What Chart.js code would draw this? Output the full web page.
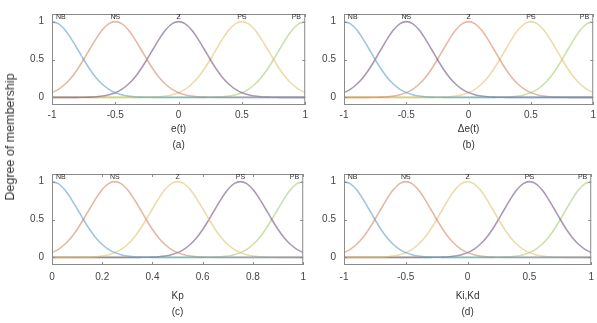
<!DOCTYPE html>
<html>
<head>
<meta charset="utf-8">
<script src="https://cdn.jsdelivr.net/npm/chart.js"></script>
<style>
  body { margin: 0; background: #fff; width: 597px; height: 323px; position: relative; overflow: hidden; }
  canvas { position: absolute; }
  #ylabel {
    position: absolute; left: 10px; top: 137px;
    transform: translate(-50%, -50%) rotate(-90deg);
    font: 12.5px "Liberation Sans", Arial, sans-serif; color: #333; white-space: nowrap;
  }
</style>
</head>
<body>
<canvas id="pa" width="312" height="160" style="left:0;top:0"></canvas>
<canvas id="pb" width="300" height="160" style="left:300px;top:0"></canvas>
<canvas id="pc" width="312" height="160" style="left:0;top:160px"></canvas>
<canvas id="pd" width="300" height="160" style="left:300px;top:160px"></canvas>
<div id="ylabel">Degree of membership</div>
<script>
// sample points along the universe of discourse
const xSym = [-1, -0.95, -0.9, -0.85, -0.8, -0.75, -0.7, -0.65, -0.6, -0.55, -0.5,
  -0.45, -0.4, -0.35, -0.3, -0.25, -0.2, -0.15, -0.1, -0.05, 0,
  0.05, 0.1, 0.15, 0.2, 0.25, 0.3, 0.35, 0.4, 0.45, 0.5,
  0.55, 0.6, 0.65, 0.7, 0.75, 0.8, 0.85, 0.9, 0.95, 1];
const xKp = [0, 0.025, 0.05, 0.075, 0.1, 0.125, 0.15, 0.175, 0.2, 0.225, 0.25,
  0.275, 0.3, 0.325, 0.35, 0.375, 0.4, 0.425, 0.45, 0.475, 0.5,
  0.525, 0.55, 0.575, 0.6, 0.625, 0.65, 0.675, 0.7, 0.725, 0.75,
  0.775, 0.8, 0.825, 0.85, 0.875, 0.9, 0.925, 0.95, 0.975, 1];

// membership degrees of the five gaussian sets
const mfNB = [1, .973, .895, .779, .642, .5, .369, .257, .17, .106, .063, .035, .018, .009, .004, .002, .001,
  0, 0, 0, 0, 0, 0, 0, 0, 0, 0, 0, 0, 0, 0, 0, 0, 0, 0, 0, 0, 0, 0, 0, 0];
const mfNS = [.063, .106, .17, .257, .369, .5, .642, .779, .895, .973, 1, .973, .895, .779, .642, .5, .369, .257,
  .17, .106, .063, .035, .018, .009, .004, .002, .001, 0, 0, 0, 0, 0, 0, 0, 0, 0, 0, 0, 0, 0, 0];
const mfZ = [0, 0, 0, 0, .001, .002, .004, .009, .018, .035, .063, .106, .17, .257, .369, .5, .642, .779, .895, .973, 1,
  .973, .895, .779, .642, .5, .369, .257, .17, .106, .063, .035, .018, .009, .004, .002, .001, 0, 0, 0, 0];
const mfPS = [0, 0, 0, 0, 0, 0, 0, 0, 0, 0, 0, 0, 0, 0, .001, .002, .004, .009, .018, .035, .063, .106, .17, .257,
  .369, .5, .642, .779, .895, .973, 1, .973, .895, .779, .642, .5, .369, .257, .17, .106, .063];
const mfPB = [0, 0, 0, 0, 0, 0, 0, 0, 0, 0, 0, 0, 0, 0, 0, 0, 0, 0, 0, 0, 0, 0, 0, 0,
  .001, .002, .004, .009, .018, .035, .063, .106, .17, .257, .369, .5, .642, .779, .895, .973, 1];

const setNames = ["NB", "NS", "Z", "PS", "PB"];
const setLabelPosSym = [-0.93, -0.5, 0, 0.5, 0.93];
const setLabelPosKp = [0.035, 0.25, 0.5, 0.75, 0.965];

const ticksSym = [-1, -0.5, 0, 0.5, 1];
const ticksKp = [0, 0.2, 0.4, 0.6, 0.8, 1];
const ticksY = [0, 0.5, 1];

const blue = "rgba(95,160,200,0.6)";
const orange = "rgba(210,125,90,0.55)";
const yellow = "rgba(225,190,100,0.55)";
const purple = "rgba(115,85,130,0.6)";
const green = "rgba(160,200,100,0.55)";

const FONT = "'Liberation Sans', Arial, sans-serif";

// frame, inner tick marks and set names (MATLAB plotmf look)
const frame = {
  id: "frame",
  afterDatasetsDraw(chart, args, opts) {
    const { ctx, chartArea: a, scales } = chart;
    ctx.save();
    ctx.strokeStyle = "#8a8a8a";
    ctx.lineWidth = 1;
    ctx.strokeRect(a.left + 0.5, a.top + 0.5, a.right - a.left - 1, a.bottom - a.top - 1);
    ctx.beginPath();
    opts.xTicks.forEach(v => {
      const px = Math.round(scales.x.getPixelForValue(v)) + 0.5;
      ctx.moveTo(px, a.bottom); ctx.lineTo(px, a.bottom - 3);
      ctx.moveTo(px, a.top); ctx.lineTo(px, a.top + 3);
    });
    ticksY.forEach(v => {
      const py = Math.round(scales.y.getPixelForValue(v)) + 0.5;
      ctx.moveTo(a.left, py); ctx.lineTo(a.left + 3, py);
      ctx.moveTo(a.right, py); ctx.lineTo(a.right - 3, py);
    });
    ctx.stroke();
    ctx.fillStyle = "#333";
    ctx.font = "7px " + FONT;
    ctx.textAlign = "center";
    ctx.textBaseline = "middle";
    setNames.forEach((n, i) => {
      ctx.fillText(n, scales.x.getPixelForValue(opts.labelPos[i]), scales.y.getPixelForValue(1.055));
    });
    ctx.restore();
  }
};

function makePanel(id, xs, xTicks, labelPos, colors, title, yWidth, rightPad, titlePad, tickPad) {
  const series = [mfNB, mfNS, mfZ, mfPS, mfPB];
  new Chart(document.getElementById(id), {
    type: "line",
    data: {
      datasets: series.map((s, i) => ({
        label: setNames[i],
        data: xs.map((x, j) => ({ x, y: s[j] })),
        borderColor: colors[i],
        borderWidth: 1.6,
        pointRadius: 0,
        cubicInterpolationMode: "monotone",
        fill: false
      }))
    },
    options: {
      responsive: false,
      animation: false,
      devicePixelRatio: 1,
      layout: { padding: { top: 13, right: rightPad, left: 0, bottom: 0 } },
      plugins: {
        legend: { display: false },
        tooltip: { enabled: false },
        frame: { xTicks, labelPos }
      },
      scales: {
        x: {
          type: "linear",
          min: xTicks[0],
          max: xTicks[xTicks.length - 1],
          afterBuildTicks: s => { s.ticks = xTicks.map(v => ({ value: v })); },
          afterFit: s => { s.height = 55; },
          grid: { display: false, drawTicks: false },
          border: { display: false },
          ticks: { color: "#444", font: { family: FONT, size: 10 }, padding: tickPad, maxRotation: 0, callback: v => String(v) },
          title: {
            display: true,
            text: title,
            color: "#333",
            font: { family: FONT, size: 10, lineHeight: 1.6 },
            padding: { top: 0, bottom: titlePad }
          }
        },
        y: {
          min: -0.1,
          max: 1.1,
          afterBuildTicks: s => { s.ticks = ticksY.map(v => ({ value: v })); },
          afterFit: s => { s.width = yWidth; },
          grid: { display: false, drawTicks: false },
          border: { display: false },
          ticks: { color: "#444", font: { family: FONT, size: 10 }, padding: 8, callback: v => String(v) }
        }
      }
    },
    plugins: [frame]
  });
}

makePanel("pa", xSym, ticksSym, setLabelPosSym, [blue, orange, purple, yellow, green], ["e(t)", "(a)"], 52, 6, 7, 4);
makePanel("pb", xSym, ticksSym, setLabelPosSym, [blue, purple, orange, yellow, green], ["\u0394e(t)", "(b)"], 44, 5, 7, 4);
makePanel("pc", xKp, ticksKp, setLabelPosKp, [blue, orange, yellow, purple, green], ["Kp", "(c)"], 52, 6, 0, 6);
makePanel("pd", xSym, ticksSym, setLabelPosSym, [blue, orange, yellow, purple, green], ["Ki,Kd", "(d)"], 44, 5, 0, 6);
</script>
</body>
</html>
